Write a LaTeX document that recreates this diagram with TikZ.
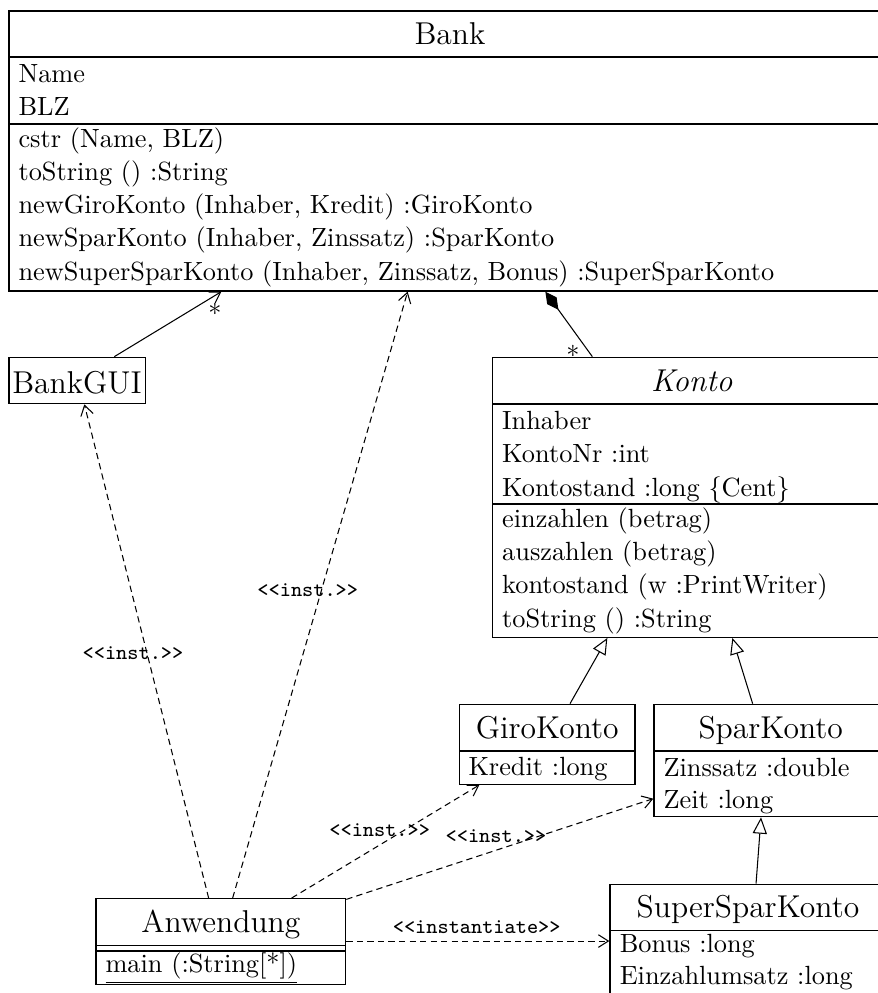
\documentclass[tikz,border=0pt]{standalone}
\usetikzlibrary{arrows.meta,fit,calc}
\begin{document}
\begin{tikzpicture}[x=0.38pt,y=-0.38pt,
  cls/.style={draw, line width=0.5pt, inner sep=0pt},
  sepline/.style={line width=0.5pt},
  title/.style={font=\large, inner sep=0pt, anchor=base},
  member/.style={inner sep=0pt, anchor=base west},
  stereo/.style={font=\ttfamily\footnotesize, inner sep=0pt, anchor=base},
  mult/.style={inner sep=0pt},
  assoc/.style={line width=0.4pt, -{Straight Barb[length=3.8pt,width=4.8pt]}},
  depend/.style={assoc, dash pattern=on 2.4pt off 1.6pt},
  inherit/.style={line width=0.4pt, -{Triangle[open,length=6.2pt,width=5.4pt]}},
  compose/.style={line width=0.4pt, {Diamond[length=8.5pt,width=4.4pt]}-}
]
\clip (0,0) rectangle (878,993);

% ---- Bank ----
\node[cls, fit={(9,11) (891,291)}] (bank) {};
\draw[sepline] (9,57) -- (891,57);
\draw[sepline] (9,124) -- (891,124);
\node[title] (bankT) at (450,44) {Bank};
\node[member] (bankA1) at (18,82.5) {Name};
\node[member] (bankA2) at (18,115.8) {BLZ};
\node[member] (bankM1) at (18,147) {cstr (Name, BLZ)};
\node[member] (bankM2) at (18,180.3) {toString () :String};
\node[member] (bankM3) at (18,213.6) {newGiroKonto (Inhaber, Kredit) :GiroKonto};
\node[member] (bankM4) at (18,246.9) {newSparKonto (Inhaber, Zinssatz) :SparKonto};
\node[member] (bankM5) at (18,280.2) {newSuperSparKonto (Inhaber, Zinssatz, Bonus) :SuperSparKonto};

% ---- BankGUI ----
\node[cls, fit={(9,357.3) (145.7,403.7)}] (gui) {};
\node[title] (guiT) at (77,393) {BankGUI};

% ---- Konto ----
\node[cls, fit={(492.3,357.3) (891,637.3)}] (konto) {};
\draw[sepline] (492.3,404) -- (891,404);
\draw[sepline] (492.3,504) -- (891,504);
\node[title, font=\large\itshape] (kontoT) at (691.7,391.5) {Konto};
\node[member] (kontoA1) at (501.7,429.5) {Inhaber};
\node[member] (kontoA2) at (501.7,462.8) {KontoNr :int};
\node[member] (kontoA3) at (501.7,496.1) {Kontostand :long \{Cent\}};
\node[member] (kontoM1) at (501.7,527.2) {einzahlen (betrag)};
\node[member] (kontoM2) at (501.7,560.5) {auszahlen (betrag)};
\node[member] (kontoM3) at (501.7,593.8) {kontostand (w :PrintWriter)};
\node[member] (kontoM4) at (501.7,627.1) {toString () :String};

% ---- GiroKonto ----
\node[cls, fit={(459.3,704.3) (635,784.3)}] (giro) {};
\draw[sepline] (459.3,751) -- (635,751);
\node[title] (giroT) at (547.2,738.5) {GiroKonto};
\node[member] (giroA1) at (468,775.5) {Kredit :long};

% ---- SparKonto ----
\node[cls, fit={(654,704.3) (887,816.7)}] (spar) {};
\draw[sepline] (654,751) -- (887,751);
\node[title] (sparT) at (770.7,738.5) {SparKonto};
\node[member] (sparA1) at (663,776.5) {Zinssatz :double};
\node[member] (sparA2) at (663,808.5) {Zeit :long};

% ---- SuperSparKonto ----
\node[cls, fit={(610,884.3) (886,1000)}] (super) {};
\draw[sepline] (610,930.5) -- (886,930.5);
\node[title] (superT) at (748,917.5) {SuperSparKonto};
\node[member] (superA1) at (619.3,952.5) {Bonus :long};
\node[member] (superA2) at (619.3,984.5) {Einzahlumsatz :long};

% ---- Anwendung ----
\node[cls, fit={(96,898.7) (345.7,984.3)}] (app) {};
\draw[sepline] (96,945.7) -- (345.7,945.7);
\draw[sepline] (96,951) -- (345.7,951);
\node[title] (appT) at (220.9,932) {Anwendung};
\node[member] (appM1) at (105,972) {\underline{main (:String[*])}};

% ---- associations ----
\draw[assoc] ($(gui.north west)+(106,0)$) -- ($(bank.south west)+(213,0)$);
\node[mult] (mGui) at (215,309) {$*$};
\draw[compose] ($(bank.south west)+(537,0)$) -- ($(konto.north west)+(100.7,0)$);
\node[mult] (mKonto) at (573,351.5) {$*$};

% ---- generalizations ----
\draw[inherit] ($(giro.north west)+(111.4,0)$) -- ($(konto.south west)+(115.7,0)$);
\draw[inherit] ($(spar.north west)+(99.3,0)$) -- ($(konto.south west)+(240.7,0)$);
\draw[inherit] ($(super.north west)+(146.7,0)$) -- ($(spar.south west)+(107.7,0)$);

% ---- instantiation dependencies ----
\draw[depend] ($(app.north west)+(113.3,0)$) -- ($(gui.south west)+(76,0)$);
\draw[depend] ($(app.north west)+(137.3,0)$) -- ($(bank.south west)+(399.3,0)$);
\draw[depend] ($(app.north west)+(196.3,0)$) -- ($(giro.south west)+(20.7,0)$);
\draw[depend] ($(app.north east)+(0,1.3)$) -- ($(spar.north west)+(0,95)$);
\draw[depend] ($(app.north east)+(0,43)$) -- ($(super.north west)+(0,57.4)$);

\node[stereo] (st1) at (133,659) {<{}<inst.>{}>};
\node[stereo] (st2) at (307.8,596) {<{}<inst.>{}>};
\node[stereo] (st3) at (379.7,836) {<{}<inst.>{}>};
\node[stereo] (st4) at (496,842.7) {<{}<inst.>{}>};
\node[stereo] (st5) at (476.7,933.3) {<{}<instantiate>{}>};
\end{tikzpicture}
\end{document}
